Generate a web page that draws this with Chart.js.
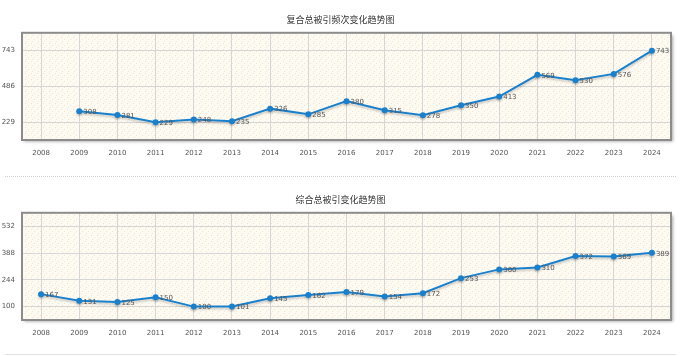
<!DOCTYPE html>
<html><head><meta charset="utf-8">
<script src="https://cdn.jsdelivr.net/npm/chart.js@4"></script>
<style>
html,body{margin:0;padding:0;background:#fff;width:692px;height:356px;overflow:hidden}
.wrap{position:absolute;left:0;width:692px;height:170px}
#w1{top:0}#w2{top:180px}
.sep{position:absolute;left:5px;width:671px;height:0;border-top:1px dotted #cfcfcf}
</style></head><body>
<div class="wrap" id="w1"><canvas id="c1"></canvas></div>
<div class="sep" style="top:176px"></div>
<div class="wrap" id="w2"><canvas id="c2"></canvas></div>
<div class="sep" style="top:354px;border-top:1px solid #e2e2e2"></div>
<script>
const years = ['2008','2009','2010','2011','2012','2013','2014','2015','2016','2017','2018','2019','2020','2021','2022','2023','2024'];
const compositeCited = [null,308,281,229,248,235,326,285,380,315,278,350,413,569,530,576,743];
const comprehensiveCited = [167,131,125,150,100,101,145,162,179,154,172,253,300,310,372,369,389];
const yTicks1 = [229,486,743];
const yTicks2 = [100,244,388,532];
const title1 = '复合总被引频次变化趋势图';
const title2 = '综合总被引变化趋势图';

function makePattern(){
  const p=document.createElement('canvas');p.width=6;p.height=6;
  const g=p.getContext('2d');
  g.fillStyle='#fdfaf2';g.fillRect(0,0,6,6);
  g.fillStyle='rgba(215,180,130,0.3)';
  g.fillRect(1,1,1,1);g.fillRect(4,3,1,1);g.fillRect(2,5,1,1);
  return p;
}
const patCanvas=makePattern();

const boxPlugin={
  id:'box',
  afterLayout(chart){
    if(chart.titleBlock){chart.titleBlock.left=10;}
  },
  beforeDraw(chart){
    const {ctx,chartArea:a}=chart;
    ctx.save();
    ctx.shadowColor='rgba(0,0,0,0.35)';ctx.shadowOffsetX=2;ctx.shadowOffsetY=2;ctx.shadowBlur=3;
    ctx.fillStyle='#fff';ctx.fillRect(a.left,a.top,a.right-a.left,a.bottom-a.top);
    ctx.restore();
    ctx.save();
    ctx.fillStyle=ctx.createPattern(patCanvas,'repeat');
    ctx.fillRect(a.left,a.top,a.right-a.left,a.bottom-a.top);
    ctx.restore();
  },
  afterDraw(chart){
    const {ctx,chartArea:a}=chart;
    ctx.save();
    ctx.strokeStyle='#8c8c8c';ctx.lineWidth=2;
    ctx.strokeRect(a.left,a.top,a.right-a.left,a.bottom-a.top);
    ctx.restore();
  },
  beforeDatasetsDraw(chart){
    const ctx=chart.ctx;ctx.save();
    ctx.shadowColor='rgba(0,0,0,0.18)';ctx.shadowOffsetY=2;ctx.shadowBlur=2;
  },
  afterDatasetsDraw(chart){
    const ctx=chart.ctx;ctx.restore();
    ctx.save();
    ctx.font='7px "DejaVu Sans", sans-serif';
    ctx.fillStyle='#555';ctx.textBaseline='middle';ctx.textAlign='left';
    const meta=chart.getDatasetMeta(0);
    const data=chart.data.datasets[0].data;
    meta.data.forEach((pt,i)=>{
      if(data[i]==null)return;
      ctx.fillText(String(data[i]),pt.x+4,pt.y+1);
    });
    ctx.restore();
  }
};

function build(id,title,data,ticks){
  const step=ticks[1]-ticks[0];
  new Chart(document.getElementById(id),{
    type:'line',
    data:{labels:years,datasets:[{data:data,borderColor:'#1a80cc',backgroundColor:'#1a80cc',borderWidth:2,pointRadius:3,pointBorderWidth:0,pointHoverRadius:3,tension:0,spanGaps:false}]},
    options:{
      responsive:true,maintainAspectRatio:false,animation:false,
      layout:{padding:{left:0,right:21,top:0,bottom:0}},
      plugins:{
        legend:{display:false},tooltip:{enabled:false},
        title:{display:true,text:title,color:'#333',font:{size:9,family:'"Noto Sans CJK SC", sans-serif',weight:'normal'},padding:{top:14,bottom:8}}
      },
      scales:{
        x:{type:'category',offset:true,
          grid:{offset:false,color:'#d6d6d6',lineWidth:1,drawTicks:false},
          border:{display:false},
          ticks:{color:'#555',font:{size:7,family:'"DejaVu Sans", sans-serif'},padding:9,maxRotation:0,autoSkip:false},
          afterFit(s){s.height=30;s.paddingLeft=0;s.paddingRight=0;}
        },
        y:{min:ticks[0]-step/2,max:ticks[ticks.length-1]+step/2,
          grid:{color:'#d6d6d6',lineWidth:1,drawTicks:false},
          border:{display:false},
          ticks:{color:'#555',font:{size:7,family:'"DejaVu Sans", sans-serif'},padding:7},
          afterBuildTicks(s){s.ticks=ticks.map(v=>({value:v}));},
          afterFit(s){s.width=22;s.paddingTop=0;s.paddingBottom=0;}
        }
      }
    },
    plugins:[boxPlugin]
  });
}
build('c1',title1,compositeCited,yTicks1);
build('c2',title2,comprehensiveCited,yTicks2);
</script>
</body></html>
